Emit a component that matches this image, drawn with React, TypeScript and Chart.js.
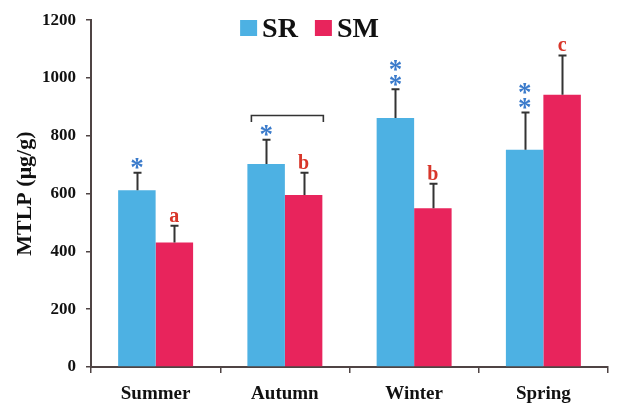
import { useEffect, useRef } from "react";
import { Chart, registerables } from "chart.js";

Chart.register(...registerables);

const seasons = ["Summer", "Autumn", "Winter", "Spring"];
const seriesNames = ["SR", "SM"];
const srValues = [612, 702, 862, 752];
const smValues = [431, 595, 549, 942];
const srErrors = [60, 84, 99, 129];
const smErrors = [58, 77, 85, 136];
const srMarks = ["*", "*", "**", "**"];
const smMarks = ["a", "b", "b", "c"];
const bracketCategory = 1;
const bracketValue = 870;
const bracketTail = 848;
const yMin = 0;
const yMax = 1200;
const yStep = 200;

const SERIF = '"Liberation Serif", "Times New Roman", serif';
const SR_COLOR = "#4DB1E3";
const SM_COLOR = "#E8245C";
const STAR_COLOR = "#3B7BCB";
const LETTER_COLOR = "#D8362A";
const AXIS_COLOR = "#4f4444";
const ERR_COLOR = "#333333";

const overlayPlugin = {
  id: "overlay",
  afterDatasetsDraw(chart: any) {
    const ctx = chart.ctx as CanvasRenderingContext2D;
    const yScale = chart.scales.y;
    const vals = [srValues, smValues];
    const errs = [srErrors, smErrors];
    const tops: number[][] = [[], []];
    ctx.save();
    ctx.strokeStyle = ERR_COLOR;
    ctx.lineWidth = 2;
    for (let d = 0; d < 2; d++) {
      const meta = chart.getDatasetMeta(d);
      meta.data.forEach((bar: any, i: number) => {
        const x = Math.round(bar.x) + 0.5;
        const y0 = yScale.getPixelForValue(vals[d][i]);
        const y1 = yScale.getPixelForValue(vals[d][i] + errs[d][i]);
        ctx.beginPath();
        ctx.moveTo(x, y0);
        ctx.lineTo(x, y1);
        ctx.moveTo(x - 4, y1);
        ctx.lineTo(x + 4, y1);
        ctx.stroke();
        tops[d][i] = y1;
      });
    }

    // asterisks above SR
    ctx.font = `bold 27px ${SERIF}`;
    ctx.fillStyle = STAR_COLOR;
    ctx.textAlign = "center";
    ctx.textBaseline = "alphabetic";
    const m = ctx.measureText("*");
    const asc = m.actualBoundingBoxAscent;
    const desc = m.actualBoundingBoxDescent;
    const srMeta = chart.getDatasetMeta(0);
    srMarks.forEach((mark, i) => {
      const bar = srMeta.data[i];
      for (let k = 0; k < mark.length; k++) {
        const center = tops[0][i] - 9 - 15 * k;
        const baseline = center + (asc - desc) / 2;
        ctx.fillText("*", bar.x, baseline);
      }
    });

    // letters above SM
    ctx.font = `bold 20px ${SERIF}`;
    ctx.fillStyle = LETTER_COLOR;
    const smMeta = chart.getDatasetMeta(1);
    smMarks.forEach((mark, i) => {
      const bar = smMeta.data[i];
      ctx.fillText(mark, bar.x, tops[1][i] - 4);
    });

    // bracket
    const a = srMeta.data[bracketCategory];
    const b = smMeta.data[bracketCategory];
    const left = a.x - a.width / 2 + 4;
    const right = b.x + b.width / 2 + 1;
    const yb = yScale.getPixelForValue(bracketValue);
    const yt = yScale.getPixelForValue(bracketTail);
    ctx.strokeStyle = ERR_COLOR;
    ctx.lineWidth = 1.6;
    ctx.beginPath();
    ctx.moveTo(left, yt);
    ctx.lineTo(left, yb);
    ctx.lineTo(right, yb);
    ctx.lineTo(right, yt);
    ctx.stroke();
    ctx.restore();
  },
  afterDraw(chart: any) {
    const ctx = chart.ctx as CanvasRenderingContext2D;
    ctx.save();
    ctx.font = `bold 28px ${SERIF}`;
    ctx.textAlign = "left";
    ctx.textBaseline = "alphabetic";
    const box = 17;
    const gapText = 5;
    const gapItem = 17;
    const widths = chart.data.datasets.map((ds: any) => ctx.measureText(ds.label).width);
    let total = 0;
    widths.forEach((w: number, i: number) => {
      total += box + gapText + w + (i < widths.length - 1 ? gapItem : 0);
    });
    let x = chart.width / 2 - total / 2;
    const baseline = 37;
    chart.data.datasets.forEach((ds: any, i: number) => {
      ctx.fillStyle = ds.backgroundColor;
      ctx.fillRect(x, 20, box, 16);
      x += box + gapText;
      ctx.fillStyle = "#111111";
      ctx.fillText(ds.label, x, baseline);
      x += widths[i] + gapItem;
    });
    ctx.restore();
  },
};

export default function App() {
  const canvasRef = useRef<HTMLCanvasElement | null>(null);

  useEffect(() => {
    document.body.style.margin = "0";
    const canvas = canvasRef.current;
    if (!canvas) return;
    const chart = new Chart(canvas, {
      type: "bar",
      data: {
        labels: seasons,
        datasets: [
          {
            label: seriesNames[0],
            data: srValues,
            backgroundColor: SR_COLOR,
            borderWidth: 0,
            categoryPercentage: 0.58,
            barPercentage: 1.0,
          },
          {
            label: seriesNames[1],
            data: smValues,
            backgroundColor: SM_COLOR,
            borderWidth: 0,
            categoryPercentage: 0.58,
            barPercentage: 1.0,
          },
        ],
      },
      options: {
        responsive: false,
        animation: false,
        layout: { padding: { top: 18, right: 11, left: 0, bottom: 0 } },
        plugins: {
          legend: { display: false },
          tooltip: { enabled: false },
        },
        scales: {
          x: {
            offset: true,
            grid: {
              display: true,
              offset: true,
              drawOnChartArea: false,
              drawTicks: true,
              tickLength: 6,
              color: AXIS_COLOR,
              lineWidth: 1.5,
            },
            border: { display: true, color: AXIS_COLOR, width: 2 },
            ticks: {
              color: "#111111",
              font: { family: SERIF, size: 19, weight: "bold" },
              padding: 10,
            },
            afterFit(scale: any) {
              scale.height = 39;
            },
          },
          y: {
            min: yMin,
            max: yMax,
            ticks: {
              stepSize: yStep,
              color: "#111111",
              font: { family: SERIF, size: 17, weight: "bold" },
              padding: 10,
              callback: (v: any) => String(v),
            },
            grid: {
              display: true,
              drawOnChartArea: false,
              drawTicks: true,
              tickLength: 5,
              color: AXIS_COLOR,
              lineWidth: 1.5,
            },
            border: { display: true, color: AXIS_COLOR, width: 2 },
            title: {
              display: true,
              text: "MTLP (μg/g)",
              color: "#111111",
              font: { family: SERIF, size: 22, weight: "bold" },
              padding: { top: 12, bottom: 0 },
            },
            afterFit(scale: any) {
              scale.width = 91;
            },
          },
        },
      },
      plugins: [overlayPlugin],
    });
    return () => chart.destroy();
  }, []);

  return (
    <div style={{ position: "absolute", left: 0, top: 0, width: 619, height: 406 }}>
      <canvas ref={canvasRef} width={619} height={406} style={{ display: "block" }} />
    </div>
  );
}
